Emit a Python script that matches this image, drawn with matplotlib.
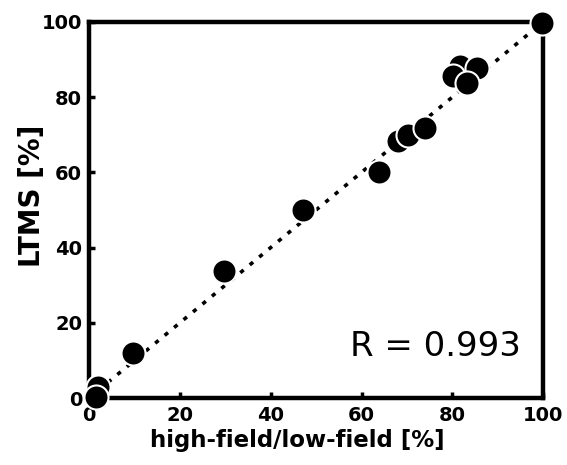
import matplotlib.pyplot as plt

# values
high_low = [2.0, 1.5, 9.7, 29.7, 47.1, 63.9, 68.0, 70.3, 74.0,
            81.7, 85.5, 80.2, 83.3, 99.8]
ltms = [3.0, 0.3, 12.0, 33.7, 49.9, 60.0, 68.2, 69.8, 71.9,
        88.3, 87.8, 85.7, 83.8, 99.7]
ticks = [0, 20, 40, 60, 80, 100]
r_text = "R = 0.993"

plt.rcParams["font.family"] = ["DejaVu Sans"]

fig = plt.figure(figsize=(5.67, 4.65), dpi=100)
ax = fig.add_axes([0.157, 0.144, 0.801, 0.809])

ax.plot([0, 100], [0, 100], linestyle=(0, (1.2, 2.2)), color="black",
        linewidth=2.6, zorder=1)
ax.scatter(high_low, ltms, s=300, color="black", edgecolor="white",
           linewidth=1.5, zorder=3, clip_on=False)

ax.set_xlim(0, 100)
ax.set_ylim(0, 100)
ax.set_xticks(ticks)
ax.set_yticks(ticks)
for side in ["left", "right", "top", "bottom"]:
    ax.spines[side].set_linewidth(3.2)
ax.tick_params(direction="in", length=4, width=2.5, labelsize=14)
ax.tick_params(axis="x", pad=6)
ax.tick_params(axis="y", pad=5)
for lab in ax.get_xticklabels() + ax.get_yticklabels():
    lab.set_fontweight("bold")

ax.set_xlabel("high-field/low-field [%]", fontsize=16.5, fontweight="bold")
ax.set_ylabel("LTMS [%]", fontsize=20, fontweight="bold")
ax.xaxis.set_label_coords(0.458, -0.082)
ax.yaxis.set_label_coords(-0.095, 0.537)
ax.text(95, 13.8, r_text, fontsize=24.5, ha="right", va="center")

fig.savefig("out.png", dpi=100)
